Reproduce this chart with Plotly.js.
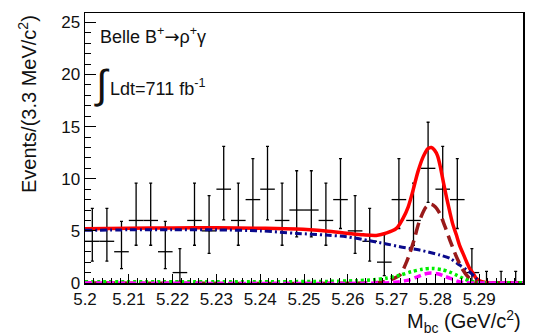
<!DOCTYPE html>
<html>
<head>
<meta charset="utf-8">
<script src="https://cdn.plot.ly/plotly-3.0.1.min.js"></script>
<style>html,body{margin:0;padding:0;background:#fff;}#chart{width:533px;height:335px;}</style>
</head>
<body>
<div id="chart"></div>
<script>
// ---- data points (Mbc bins, 30 bins of 3.33 MeV) ----
var binCenters = [5.20167, 5.20500, 5.20833, 5.21167, 5.21500, 5.21833, 5.22167, 5.22500, 5.22833, 5.23167,
                  5.23500, 5.23833, 5.24167, 5.24500, 5.24833, 5.25167, 5.25500, 5.25833, 5.26167, 5.26500,
                  5.26833, 5.27167, 5.27500, 5.27833, 5.28167, 5.28500, 5.28833, 5.29167, 5.29500, 5.29833];
var counts = [4, 4, 3, 6, 6, 3, 1, 6, 5, 9,
              6, 8, 9, 6, 7, 7, 6, 8, 5, 4,
              2, 8, 6, 11, 9, 8, 1, 0, 0, 0];
var errLow = [1.91, 1.91, 1.63, 2.38, 2.38, 1.63, 0.83, 2.38, 2.16, 2.94,
              2.38, 2.77, 2.94, 2.38, 2.58, 2.58, 2.38, 2.77, 2.16, 1.91,
              1.29, 2.77, 2.38, 3.27, 2.94, 2.77, 0.83, 0, 0, 0];
var errHigh = [3.16, 3.16, 2.92, 3.58, 3.58, 2.92, 2.30, 3.58, 3.38, 4.11,
               3.58, 3.94, 4.11, 3.58, 3.77, 3.77, 3.58, 3.94, 3.38, 3.16,
               2.64, 3.94, 3.58, 4.42, 4.11, 3.94, 2.30, 1.12, 1.12, 1.12];
var halfBin = 0.001667;

// ---- fit curves ----
var totalX = [5.200, 5.210, 5.220, 5.230, 5.240, 5.2483, 5.255, 5.2597, 5.2635, 5.2665, 5.2689, 5.2711, 5.2726, 5.2738,
              5.2749, 5.2760, 5.2772, 5.2783, 5.2791, 5.2798, 5.2805, 5.2812, 5.2819, 5.2826, 5.2833, 5.2840, 5.2848,
              5.2855, 5.2863, 5.2871, 5.2878, 5.2886, 5.2893, 5.2901, 5.2912, 5.2940, 5.3000];
var totalY = [5.20, 5.25, 5.28, 5.30, 5.25, 5.17, 4.98, 4.78, 4.62, 4.56, 4.80, 5.24, 6.20, 7.31,
              8.90, 10.66, 12.10, 12.90, 13.00, 12.74, 12.20, 11.00, 9.50, 8.10, 6.80, 5.60, 4.60,
              3.64, 2.84, 2.04, 1.41, 0.93, 0.45, 0.22, 0.07, 0.02, 0.02];

var bkgX = [5.200, 5.210, 5.220, 5.230, 5.240, 5.2483, 5.255, 5.2597, 5.265, 5.2688, 5.2719, 5.2764, 5.2810,
            5.2833, 5.2855, 5.2878, 5.2893, 5.2903, 5.2910, 5.3000];
var bkgY = [5.05, 5.10, 5.12, 5.10, 5.00, 4.76, 4.60, 4.44, 4.05, 3.75, 3.48, 3.16, 2.68,
            2.36, 1.72, 1.08, 0.45, 0.05, 0.00, 0.00];

var sigX = [5.200, 5.264, 5.268, 5.270, 5.2719, 5.2734, 5.2749, 5.2764, 5.2779, 5.2790, 5.2800, 5.2810, 5.2822,
            5.2833, 5.2848, 5.2863, 5.2878, 5.2893, 5.2910, 5.2930, 5.3000];
var sigY = [0.00, 0.00, 0.10, 0.35, 0.77, 2.00, 3.80, 6.00, 7.30, 7.55, 7.30, 6.67, 5.40,
            4.12, 2.52, 1.25, 0.45, 0.12, 0.02, 0.00, 0.00];

var peakBkgX = [5.200, 5.230, 5.255, 5.262, 5.266, 5.2690, 5.2719, 5.2745, 5.2770, 5.2793, 5.2815, 5.2833,
                5.2850, 5.2863, 5.2878, 5.2893, 5.2910, 5.3000];
var peakBkgY = [0.12, 0.12, 0.15, 0.22, 0.32, 0.48, 0.75, 1.08, 1.32, 1.40, 1.28, 1.05,
                0.72, 0.45, 0.20, 0.07, 0.02, 0.02];

var otherX = [5.200, 5.268, 5.2715, 5.2741, 5.2760, 5.2775, 5.2790, 5.2805, 5.2820, 5.2834, 5.2850, 5.2865,
              5.2880, 5.3000];
var otherY = [0.00, 0.00, 0.10, 0.30, 0.62, 0.86, 0.95, 0.88, 0.66, 0.45, 0.18, 0.04,
              0.00, 0.00];

var xTickVals = [5.20, 5.21, 5.22, 5.23, 5.24, 5.25, 5.26, 5.27, 5.28, 5.29, 5.30];
var xTickText = ['5.2', '5.21', '5.22', '5.23', '5.24', '5.25', '5.26', '5.27', '5.28', '5.29', '5.3'];
var yTickVals = [0, 5, 10, 15, 20, 25];

var FONT = 'Liberation Sans, Arial, Helvetica, sans-serif';

var traces = [
  {
    x: binCenters, y: counts, type: 'scatter', mode: 'markers',
    marker: {size: 1, color: 'black'},
    error_x: {type: 'constant', value: halfBin, width: 0, thickness: 1.3, color: 'black'},
    error_y: {type: 'data', symmetric: false, array: errHigh, arrayminus: errLow, width: 1.5, thickness: 1.3, color: 'black'},
    hoverinfo: 'skip', showlegend: false
  },
  {x: totalX, y: totalY, type: 'scatter', mode: 'lines',
   line: {color: '#ff0000', width: 3.5, shape: 'spline', smoothing: 0.8}, showlegend: false},
  {x: bkgX, y: bkgY, type: 'scatter', mode: 'lines',
   line: {color: '#0a0a8c', width: 3, dash: '7px,3px,2px,3px', shape: 'spline', smoothing: 0.8}, showlegend: false},
  {x: sigX, y: sigY, type: 'scatter', mode: 'lines',
   line: {color: '#991a1a', width: 3.5, dash: '12px,6px', shape: 'spline', smoothing: 0.8}, showlegend: false},
  {x: peakBkgX, y: peakBkgY, type: 'scatter', mode: 'lines',
   line: {color: '#00ee00', width: 3.5, dash: '3px,3px', shape: 'spline', smoothing: 0.8}, showlegend: false},
  {x: otherX, y: otherY, type: 'scatter', mode: 'lines',
   line: {color: '#ff00ff', width: 3.5, dash: '7px,4px', shape: 'spline', smoothing: 0.8}, showlegend: false}
];

var layout = {
  width: 533, height: 335,
  margin: {l: 85, r: 10, t: 13, b: 52},
  paper_bgcolor: 'white', plot_bgcolor: 'white',
  font: {family: FONT, color: '#111', size: 17},
  showlegend: false,
  xaxis: {
    range: [5.2, 5.3], tickmode: 'array', tickvals: xTickVals, ticktext: xTickText,
    ticks: 'inside', ticklen: 9, tickwidth: 1, tickcolor: 'black',
    minor: {dtick: 0.002, ticks: 'inside', ticklen: 5, tickcolor: 'black', tickwidth: 1, showgrid: false},
    showline: true, mirror: true, linecolor: 'black', linewidth: 1.5,
    showgrid: false, zeroline: false,
    tickfont: {family: FONT, size: 17, color: '#111'}
  },
  yaxis: {
    range: [0, 25.9], tickmode: 'array', tickvals: yTickVals,
    ticks: 'inside', ticklen: 11, tickwidth: 1, tickcolor: 'black',
    minor: {dtick: 1, ticks: 'inside', ticklen: 6, tickcolor: 'black', tickwidth: 1, showgrid: false},
    showline: true, mirror: true, linecolor: 'black', linewidth: 1.5,
    showgrid: false, zeroline: false,
    tickfont: {family: FONT, size: 17, color: '#111'}
  },
  annotations: [
    {text: 'Events/(3.3 MeV/c<sup>2</sup>)', textangle: -90, xref: 'paper', yref: 'paper',
     x: -0.130, y: 0.663, xanchor: 'center', yanchor: 'middle', showarrow: false,
     font: {family: FONT, size: 20, color: '#111'}},
    {text: 'M<sub>bc</sub> (GeV/c<sup>2</sup>)', xref: 'paper', yref: 'paper',
     x: 1.0, y: -0.142, xanchor: 'right', yanchor: 'middle', showarrow: false,
     font: {family: FONT, size: 20, color: '#111'}},
    {text: 'Belle B<sup>+</sup><span style="font-family:DejaVu Sans">\u2192</span>\u03c1<sup>+</sup>\u03b3', xref: 'paper', yref: 'paper',
     x: 0.0297, y: 0.915, xanchor: 'left', yanchor: 'middle', showarrow: false,
     font: {family: FONT, size: 18, color: '#111'}},
    {text: '\u222b', xref: 'paper', yref: 'paper',
     x: 0.039, y: 0.737, xanchor: 'center', yanchor: 'middle', showarrow: false,
     font: {family: FONT, size: 40, color: '#111'}},
    {text: 'Ldt=711 fb<sup>-1</sup>', xref: 'paper', yref: 'paper',
     x: 0.0525, y: 0.725, xanchor: 'left', yanchor: 'middle', showarrow: false,
     font: {family: FONT, size: 18, color: '#111'}}
  ]
};

Plotly.newPlot('chart', traces, layout, {staticPlot: true, displayModeBar: false});
</script>
</body>
</html>
